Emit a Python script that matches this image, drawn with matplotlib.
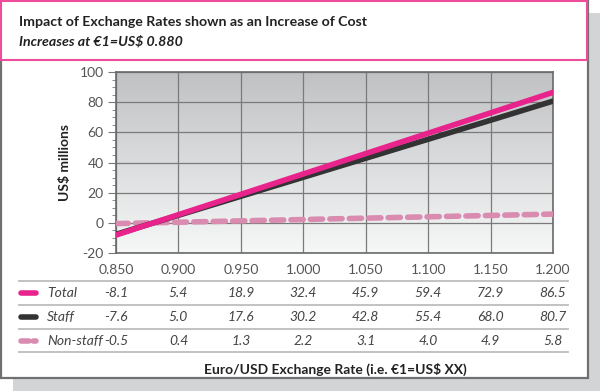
import numpy as np
import matplotlib
matplotlib.use("Agg")
from matplotlib import pyplot as plt
from matplotlib.patches import Rectangle
import matplotlib.transforms as mtrans

plt.rcParams['font.family'] = ['Lato', 'DejaVu Sans']
plt.rcParams['axes.unicode_minus'] = False

# data
rates = [0.850, 0.900, 0.950, 1.000, 1.050, 1.100, 1.150, 1.200]
total = [-8.1, 5.4, 18.9, 32.4, 45.9, 59.4, 72.9, 86.5]
staff = [-7.6, 5.0, 17.6, 30.2, 42.8, 55.4, 68.0, 80.7]
nonstaff = [-0.5, 0.4, 1.3, 2.2, 3.1, 4.0, 4.9, 5.8]
series_names = ["Total", "Staff", "Non-staff"]

title = "Impact of Exchange Rates shown as an Increase of Cost"
subtitle = "Increases at \u20ac1=US$ 0.880"
xlabel = "Euro/USD Exchange Rate (i.e. \u20ac1=US$ XX)"
ylabel = "US$ millions"

W, H = 600, 391
fig = plt.figure(figsize=(W / 100, H / 100), dpi=100)

# background axes in pixel units
bg = fig.add_axes([0, 0, 1, 1])
bg.set_xlim(0, W)
bg.set_ylim(H, 0)
bg.axis('off')

# shadow and outer box
bg.add_patch(Rectangle((13, 13), W - 13, H - 13, fc='#d3d4d6', ec='none', zorder=0))
bg.add_patch(Rectangle((0.8, 0.8), 587, 377, fc='white', ec='#707070', lw=1.6, zorder=1))
bg.add_patch(Rectangle((1.2, 1.2), 586, 58.5, fc='white', ec='#ee4d9c', lw=1.5, zorder=2))

bg.text(19, 22, title, fontsize=10.2, fontweight='bold', color='#222222', va='center', zorder=3)
bg.text(19, 41, subtitle, fontsize=10.2, fontweight='bold', fontstyle='italic', color='#222222',
        va='center', zorder=3)

# main chart
ax = fig.add_axes([116 / W, 1 - 253 / H, (553 - 116) / W, (253 - 72) / H])
ax.set_xlim(0.85, 1.2)
ax.set_ylim(-20, 100)

grad = np.linspace(0, 1, 256).reshape(-1, 1)
cmap = matplotlib.colors.LinearSegmentedColormap.from_list('g', ['#f6f7f7', '#c0c1c3'])
ax.imshow(grad, aspect='auto', cmap=cmap, origin='lower',
          extent=[0.85, 1.2, -20, 100], zorder=0)

ax.set_xticks(rates)
ax.set_yticks(range(-20, 101, 20))
ax.set_yticks(range(-20, 101, 5), minor=True)
ax.grid(True, which='major', color='#7a7a7a', lw=0.9, zorder=1)
ax.tick_params(axis='x', length=0, labelsize=10, colors='#555555', pad=8)
ax.tick_params(axis='y', which='major', length=6, labelsize=10, colors='#555555', pad=3)
ax.tick_params(axis='y', which='minor', length=3, color='#777777')
ax.tick_params(axis='y', which='major', color='#777777')
ax.set_xticklabels(["%.3f" % r for r in rates])
for s in ax.spines.values():
    s.set_color('#6a6a6a')
    s.set_linewidth(1.2)
ax.set_ylabel(ylabel, fontsize=10, fontweight='bold', color='#222222', labelpad=6)

ax.plot(rates, nonstaff, color='#d98bb0', lw=4, dashes=(2.2, 1.3), zorder=3,
        dash_capstyle='round')
ax.plot(rates, staff, color='#333333', lw=4, zorder=4, solid_capstyle='round')
ax.plot(rates, total, color='#e9238c', lw=4, zorder=5, solid_capstyle='round')

# data table below the chart
tr = mtrans.blended_transform_factory(ax.transData, bg.transData)
row_y = [293, 317, 341]
line_y = [281, 305, 328.5, 352]
for ly in line_y:
    bg.plot([19, 568], [ly, ly], color='#bdbdbd', lw=1.3, zorder=3)
styles = [dict(color='#e9238c', ls='-'), dict(color='#333333', ls='-'),
          dict(color='#d98bb0', ls=(0, (1.4, 0.8)))]
for name, vals, y, st in zip(series_names, [total, staff, nonstaff], row_y, styles):
    bg.plot([21, 36], [y, y], color=st['color'], ls=st['ls'], lw=4, zorder=4,
            solid_capstyle='round', dash_capstyle='round')
    bg.text(47, y, name, fontsize=10, fontstyle='italic', color='#444444', va='center', zorder=4)
    for r, v in zip(rates, vals):
        bg.text(r, y, "%.1f" % v, transform=tr, fontsize=10, fontstyle='italic',
                color='#444444', ha='center', va='center', zorder=4)

bg.text(335, 369, xlabel, fontsize=10, fontweight='bold', color='#222222',
        ha='center', va='center', zorder=4)

fig.savefig("out.png", dpi=100)
